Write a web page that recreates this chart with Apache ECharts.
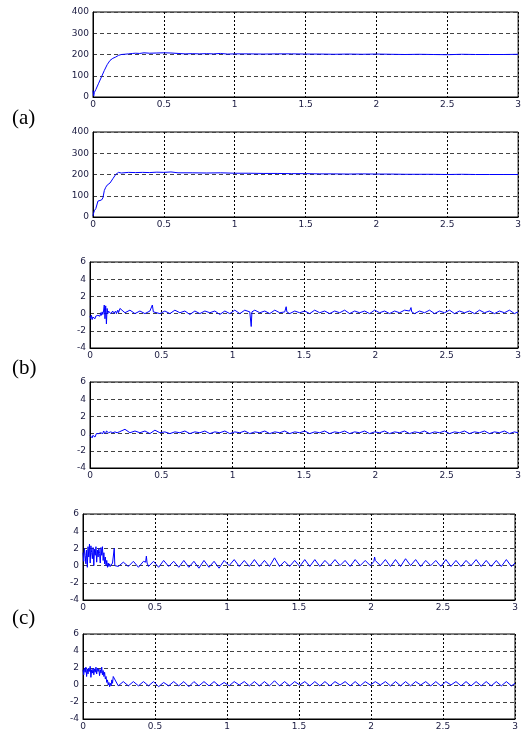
<!DOCTYPE html>
<html>
<head>
<meta charset="utf-8">
<script src="https://cdn.jsdelivr.net/npm/echarts@6/dist/echarts.min.js"></script>
<style>
html,body{margin:0;padding:0;background:#fff;}
#chart{width:524px;height:731px;}
</style>
</head>
<body>
<div id="chart"></div>
<script>
// ---- tick labels / ranges ----
var xTicks = [0, 0.5, 1, 1.5, 2, 2.5, 3];
var yTicksA = [0, 100, 200, 300, 400];
var yTicksBC = [-4, -2, 0, 2, 4, 6];
var panelLabels = ['(a)', '(b)', '(c)'];

// ---- (a) speed responses ----
var tA1 = [0,0.005,0.01,0.02,0.04,0.06,0.08,0.1,0.12,0.14,0.16,0.18,0.2,0.22,0.25,0.28,0.3,0.33,0.36,0.4,0.45,0.5,0.55,0.6,0.65,0.7,0.75,0.8,0.85,0.9,0.95,1.0,1.1,1.2,1.3,1.4,1.5,1.6,1.7,1.8,1.9,2.0,2.1,2.2,2.3,2.4,2.5,2.6,2.7,2.8,2.9,3.0];
var a1Vals = [30,5,22,35,65,95,125,152,172,182,188,196,200,201,203,205,206,205,208,206,207,208,207,205,203,204,203,204,203,205,202,203,203,202,203,203,202,202,201,202,201,202,201,200,201,200,199,201,200,200,200,201];
var tA2 = [0,0.005,0.01,0.02,0.03,0.035,0.045,0.06,0.07,0.08,0.09,0.1,0.12,0.14,0.16,0.18,0.2,0.25,0.3,0.35,0.4,0.45,0.5,0.55,0.6,0.7,0.8,0.9,1.0,1.1,1.2,1.3,1.4,1.5,1.6,1.7,1.8,1.9,2.0,2.1,2.2,2.3,2.4,2.5,2.6,2.7,2.8,2.9,3.0];
var a2Vals = [5,20,30,40,40,75,80,80,90,125,140,150,160,180,200,210,207,210,209,210,209,211,210,212,208,208,207,208,206,206,205,205,204,204,203,203,202,203,202,202,201,201,201,200,201,200,200,200,200];

// ---- (b),(c) shared time samples ----
var tStart = [0,0.005,0.01,0.015,0.02,0.025,0.03,0.035,0.04,0.045,0.05,0.055,0.06,0.065,0.07,0.075,0.08,0.085,0.09,0.095,0.1,0.105,0.11,0.115,0.12,0.125,0.13,0.135,0.14,0.145,0.15,0.155,0.16,0.165,0.17,0.175,0.18,0.185,0.19,0.195,0.2,0.205];
var tRipple = [0.21,0.245,0.28,0.315,0.35,0.385,0.42,0.455,0.49,0.525,0.56,0.595,0.63,0.665,0.7,0.735,0.77,0.805,0.84,0.875,0.91,0.945,0.98,1.015,1.05,1.085,1.12,1.155,1.19,1.225,1.26,1.295,1.33,1.365,1.4,1.435,1.47,1.505,1.54,1.575,1.61,1.645,1.68,1.715,1.75,1.785,1.82,1.855,1.89,1.925,1.96,1.995,2.03,2.065,2.1,2.135,2.17,2.205,2.24,2.275,2.31,2.345,2.38,2.415,2.45,2.485,2.52,2.555,2.59,2.625,2.66,2.695,2.73,2.765,2.8,2.835,2.87,2.905,2.94,2.975,3.0];

var b1Start = [-0.3,-0.6,-0.2,-0.7,-0.4,-0.5,-0.2,-0.6,-0.3,-0.1,-0.5,-0.2,-0.4,0.0,-0.3,0.1,-0.2,0.2,-0.1,0.3,1.0,-0.6,0.9,-1.2,0.6,0.0,0.3,0.1,0.4,0.0,0.2,0.1,0.3,0.0,0.2,0.1,0.3,0.0,0.2,0.4,0.1,0.2];
var b1Ripple = [0.6,0.1,0.4,0.0,0.3,0.0,0.3,0.2,0.0,0.3,0.0,0.4,0.1,0.3,-0.1,0.3,0.0,0.3,0.1,0.3,-0.1,0.3,0.0,0.4,0.0,0.4,0.2,0.4,0.1,0.3,0.0,0.4,0.1,0.2,0.0,0.3,0.1,0.3,0.0,0.4,0.1,0.3,0.0,0.3,0.1,0.4,0.0,0.3,0.1,0.3,0.0,0.4,0.1,0.3,0.0,0.3,0.1,0.4,0.3,0.0,0.3,0.1,0.4,0.0,0.3,0.1,0.4,0.0,0.3,0.1,0.3,0.0,0.4,0.1,0.3,0.0,0.3,0.1,0.4,0.0,0.2];
var b1Spikes = [[0.43,0.2],[0.437,1.0],[0.444,0.2],[1.125,0.2],[1.13,-1.5],[1.135,0.2],[1.37,0.2],[1.375,0.8],[1.38,0.2],[2.245,0.2],[2.25,0.7],[2.255,0.2]];

var b2Start = [-0.2,-0.4,-0.1,-0.5,-0.2,-0.3,-0.1,-0.4,-0.2,0.0,-0.1,0.1,0.0,0.2,0.0,0.1,0.1,0.2,0.0,0.3,0.1,0.2,0.0,0.3,0.1,0.2,0.1,0.3,0.0,0.2,0.1,0.3,0.1,0.2,0.0,0.2,0.1,0.2,0.1,0.3,0.1,0.2];
var b2Ripple = [0.2,0.5,0.1,0.3,0.1,0.3,0.0,0.4,0.1,0.2,0.0,0.2,0.1,0.3,0.0,0.2,0.1,0.3,0.0,0.2,0.1,0.3,0.0,0.2,0.1,0.3,0.0,0.2,0.1,0.3,0.0,0.2,0.1,0.3,0.0,0.2,0.1,0.3,0.0,0.2,0.1,0.3,0.0,0.2,0.1,0.3,0.0,0.2,0.1,0.3,0.0,0.2,0.1,0.3,0.0,0.2,0.1,0.3,0.0,0.2,0.1,0.3,0.0,0.2,0.1,0.3,0.0,0.2,0.1,0.3,0.0,0.2,0.1,0.3,0.0,0.2,0.1,0.3,0.0,0.2,0.1];
var b2Spikes = [];

var c1Start = [1.5,0.5,2.0,1.2,0.2,1.8,-0.2,2.2,1.0,2.5,0.3,2.3,1.5,0.8,2.1,0.0,1.9,1.2,2.2,0.4,1.8,1.0,2.0,1.4,0.3,2.1,1.2,2.2,0.6,1.5,0.2,1.0,0.0,0.6,-0.2,0.3,-0.1,0.2,-0.1,0.1,0.0,0.3];
var c1Ripple = [0.3,-0.1,0.4,-0.1,0.5,-0.2,0.5,-0.1,0.5,-0.2,0.6,-0.1,0.5,-0.2,0.6,-0.2,0.5,-0.3,0.6,-0.2,0.5,-0.3,0.6,0.0,0.7,-0.1,0.6,-0.1,0.7,-0.1,0.6,-0.1,0.9,-0.1,0.5,-0.1,0.6,-0.1,0.7,-0.1,0.7,-0.1,0.6,0.0,0.7,0.0,0.6,-0.1,0.7,0.0,0.6,0.0,0.6,0.0,0.7,-0.1,0.7,-0.1,0.8,0.0,0.7,-0.1,0.6,0.0,0.6,-0.1,0.7,-0.1,0.6,-0.1,0.6,0.0,0.7,-0.1,0.6,-0.1,0.6,-0.1,0.7,-0.1,0.3];
var c1Spikes = [[0.213,0.2],[0.217,2.0],[0.221,0.0],[0.435,0.4],[0.44,1.1],[0.445,0.3],[2.02,0.5],[2.025,1.0]];

var c2Start = [1.8,1.2,2.0,1.5,2.1,1.0,1.9,1.3,2.0,1.6,2.2,0.9,1.8,1.4,2.0,1.2,1.9,1.5,2.1,1.3,2.0,1.6,1.9,1.1,1.8,1.4,2.1,1.2,1.7,1.0,1.5,0.7,1.0,0.3,0.6,0.0,0.3,-0.2,0.2,-0.1,0.6,0.2];
var c2Ripple = [1.0,-0.1,0.4,-0.1,0.4,-0.1,0.4,-0.1,0.4,-0.2,0.3,-0.1,0.4,-0.1,0.4,-0.2,0.4,-0.1,0.4,-0.1,0.4,-0.1,0.3,-0.1,0.4,0.0,0.4,-0.1,0.4,-0.1,0.4,-0.1,0.5,-0.1,0.4,-0.1,0.4,0.0,0.4,-0.1,0.4,-0.1,0.4,-0.1,0.4,0.0,0.4,-0.1,0.4,-0.1,0.4,0.0,0.4,0.0,0.4,-0.1,0.4,-0.1,0.4,-0.1,0.4,0.0,0.4,-0.1,0.4,-0.1,0.4,0.0,0.4,-0.1,0.4,-0.1,0.4,-0.1,0.4,-0.1,0.4,-0.1,0.4,-0.1,0.2];
var c2Spikes = [];

// ---- build ----
function pairs(t, v) { return t.map(function (x, i) { return [x, v[i]]; }); }
function merged(t, v, extra) {
  return pairs(t, v).concat(extra).sort(function (p, q) { return p[0] - q[0]; });
}
var tBC = tStart.concat(tRipple);
var seriesData = [
  pairs(tA1, a1Vals),
  pairs(tA2, a2Vals),
  merged(tBC, b1Start.concat(b1Ripple), b1Spikes),
  merged(tBC, b2Start.concat(b2Ripple), b2Spikes),
  merged(tBC, c1Start.concat(c1Ripple), c1Spikes),
  merged(tBC, c2Start.concat(c2Ripple), c2Spikes)
];

var grids = [
  {left: 93, top: 12, width: 429, height: 85},
  {left: 93, top: 132, width: 429, height: 85},
  {left: 90, top: 262, width: 428, height: 86},
  {left: 90, top: 382, width: 428, height: 86},
  {left: 83, top: 514, width: 432, height: 86},
  {left: 83, top: 634, width: 432, height: 86}
];

var labelFont = {fontFamily: '"DejaVu Sans", sans-serif', fontSize: 9, color: '#1a1a40'};

var option = {
  animation: false,
  backgroundColor: '#fff',
  grid: grids.map(function (g) {
    return Object.assign({show: true, borderColor: '#000', borderWidth: 1, backgroundColor: 'transparent', containLabel: false}, g);
  }),
  xAxis: grids.map(function (g, i) {
    return {
      type: 'value', gridIndex: i, min: xTicks[0], max: xTicks[xTicks.length - 1], interval: 0.5,
      axisLine: {show: true, onZero: false, lineStyle: {color: '#000', width: 1}},
      axisTick: {show: false},
      axisLabel: Object.assign({margin: 3}, labelFont),
      splitLine: {show: true, lineStyle: {color: '#000', type: [2, 2], width: 1}}
    };
  }),
  yAxis: grids.map(function (g, i) {
    var ticks = i < 2 ? yTicksA : yTicksBC;
    return {
      type: 'value', gridIndex: i, min: ticks[0], max: ticks[ticks.length - 1],
      interval: ticks[1] - ticks[0],
      axisLine: {show: true, lineStyle: {color: '#000', width: 1}},
      axisTick: {show: false},
      axisLabel: Object.assign({margin: 4}, labelFont),
      splitLine: {show: true, lineStyle: {color: '#444', type: [4, 3], width: 1}}
    };
  }),
  series: seriesData.map(function (d, i) {
    return {
      type: 'line', xAxisIndex: i, yAxisIndex: i, data: d,
      showSymbol: false, symbol: 'none',
      lineStyle: {color: '#0000ff', width: 1},
      z: 5
    };
  }),
  graphic: [
    {type: 'text', left: 12, top: 108, style: {text: panelLabels[0], font: '21px "Liberation Serif", serif', fill: '#000'}},
    {type: 'text', left: 12, top: 358, style: {text: panelLabels[1], font: '21px "Liberation Serif", serif', fill: '#000'}},
    {type: 'text', left: 12, top: 608, style: {text: panelLabels[2], font: '21px "Liberation Serif", serif', fill: '#000'}}
  ]
};

var chart = echarts.init(document.getElementById('chart'), null, {renderer: 'canvas'});
chart.setOption(option);
</script>
</body>
</html>
